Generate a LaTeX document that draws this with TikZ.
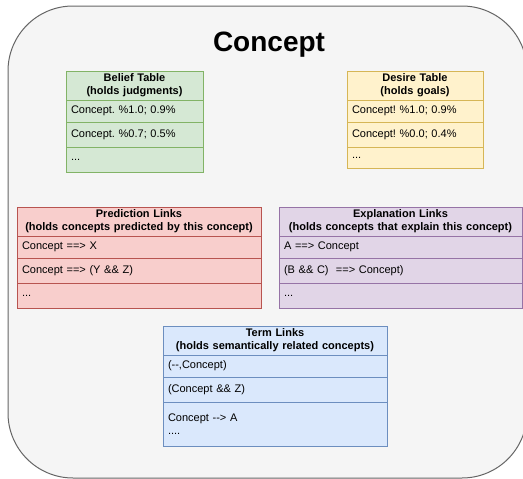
\documentclass[tikz,border=0pt]{standalone}
\usepackage{fontspec}
\setmainfont{Liberation Sans}
\usetikzlibrary{positioning}
\definecolor{framefill}{HTML}{F5F5F5}
\definecolor{frameline}{HTML}{666666}
\definecolor{greenfill}{HTML}{D5E8D4}
\definecolor{greenline}{HTML}{82B366}
\definecolor{yellowfill}{HTML}{FFF2CC}
\definecolor{yellowline}{HTML}{D6B656}
\definecolor{redfill}{HTML}{F8CECC}
\definecolor{redline}{HTML}{B85450}
\definecolor{purplefill}{HTML}{E1D5E7}
\definecolor{purpleline}{HTML}{9673A6}
\definecolor{bluefill}{HTML}{DAE8FC}
\definecolor{blueline}{HTML}{6C8EBF}
\frenchspacing

\begin{document}
\begin{tikzpicture}[x=1pt, y=-1pt,
    outerbox/.style={rectangle, draw=frameline, fill=framefill, line width=1pt, rounded corners=65pt, minimum width=519pt, minimum height=472pt},
    tblhead/.style={rectangle, draw, line width=1pt, outer sep=0pt, anchor=north west, minimum height=29pt, align=center, inner xsep=5pt, inner ysep=0pt, font=\fontsize{11}{13}\selectfont\bfseries},
    tblrow/.style={rectangle, draw, line width=1pt, outer sep=0pt, minimum height=#1, align=left, inner xsep=5pt, inner ysep=0pt, font=\fontsize{11}{13}\selectfont},
    beliefcol/.style={draw=greenline, fill=greenfill, text width=127pt},
    desirecol/.style={draw=yellowline, fill=yellowfill, text width=126pt},
    predictcol/.style={draw=redline, fill=redfill, text width=234pt},
    explaincol/.style={draw=purpleline, fill=purplefill, text width=233pt},
    termcol/.style={draw=blueline, fill=bluefill, text width=214pt}
]
    \useasboundingbox (0,0) rectangle (523,479);
    \clip (0,0) rectangle (523,479);

    \node[outerbox] (concept) at (267.5,242) {};
    \node[font=\fontsize{28}{34}\selectfont\bfseries] (title) at (269,45) {Concept};

    \node[tblhead, beliefcol] (belief) at (66,71) {Belief Table\\(holds judgments)};
    \node[tblrow=22pt, beliefcol, below=0pt of belief] (belief1) {Concept. \%1.0; 0.9\%};
    \node[tblrow=25pt, beliefcol, below=0pt of belief1] (belief2) {Concept. \%0.7; 0.5\%};
    \node[tblrow=25pt, beliefcol, below=0pt of belief2] (belief3) {...};

    \node[tblhead, desirecol] (desire) at (347,71) {Desire Table\\(holds goals)};
    \node[tblrow=22pt, desirecol, below=0pt of desire] (desire1) {Concept! \%1.0; 0.9\%};
    \node[tblrow=25pt, desirecol, below=0pt of desire1] (desire2) {Concept! \%0.0; 0.4\%};
    \node[tblrow=21pt, desirecol, below=0pt of desire2] (desire3) {...};

    \node[tblhead, predictcol] (predict) at (17,207) {Prediction Links\\(holds concepts predicted by this concept)};
    \node[tblrow=22pt, predictcol, below=0pt of predict] (predict1) {Concept ==> X};
    \node[tblrow=25pt, predictcol, below=0pt of predict1] (predict2) {Concept ==> (Y \&\& Z)};
    \node[tblrow=25pt, predictcol, below=0pt of predict2] (predict3) {...};

    \node[tblhead, explaincol] (explain) at (279,207) {Explanation Links\\(holds concepts that explain this concept)};
    \node[tblrow=22pt, explaincol, below=0pt of explain] (explain1) {A ==> Concept};
    \node[tblrow=25pt, explaincol, below=0pt of explain1] (explain2) {(B \&\& C)\ \ ==> Concept)};
    \node[tblrow=25pt, explaincol, below=0pt of explain2] (explain3) {...};

    \node[tblhead, termcol] (term) at (163,326) {Term Links\\(holds semantically related concepts)};
    \node[tblrow=22pt, termcol, below=0pt of term] (term1) {({-}{-},Concept)};
    \node[tblrow=25pt, termcol, below=0pt of term1] (term2) {(Concept \&\& Z)};
    \node[tblrow=44pt, termcol, below=0pt of term2] (term3) {Concept {-}{-}> A\\....};
\end{tikzpicture}
\end{document}
